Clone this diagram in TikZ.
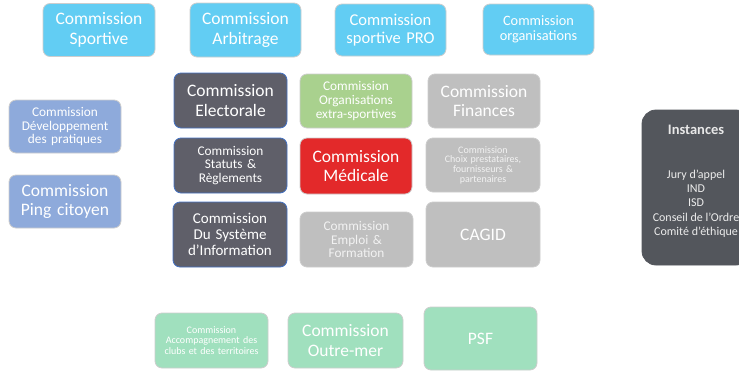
\documentclass[tikz,border=0pt]{standalone}
\usepackage{fontspec}
\setmainfont{Carlito}
\definecolor{cblue}{HTML}{62CDF3}
\definecolor{cpblue}{HTML}{8EAADB}
\definecolor{cdark}{HTML}{5F5F69}
\definecolor{cgreen}{HTML}{A9D18E}
\definecolor{cgray}{HTML}{BFBFBF}
\definecolor{cred}{HTML}{E3292A}
\definecolor{cmint}{HTML}{A0E0BE}
\definecolor{cinst}{HTML}{53565C}
\definecolor{cborder}{HTML}{CDCDCD}
\definecolor{cbborder}{HTML}{4472C4}
\tikzset{
  box/.style={rounded corners=7pt, draw=cborder, line width=0.8pt, align=center,
    inner sep=0pt, text=white},
  wh/.style n args={2}{minimum width=#1pt, minimum height=#2pt, text width=#1pt},
  big/.style={font=\fontsize{17.5}{19.5}\selectfont},
  mid/.style={font=\fontsize{15}{16}\selectfont},
  sml/.style={font=\fontsize{13.3}{13.6}\selectfont},
  tiny/.style={font=\fontsize{10}{9.6}\selectfont},
  darkbox/.style={box, fill=cdark, draw=cbborder},
}
\begin{document}
\begin{tikzpicture}[x=1pt,y=-1pt]
\useasboundingbox (0,0) rectangle (739,370);
% top row
\node[box, fill=cblue, wh={112}{53}, big] (sport) at (99,30) {Commission\\Sportive};
\node[box, fill=cblue, wh={111}{54}, big] (arb) at (245.5,30) {Commission\\Arbitrage};
\node[box, fill=cblue, wh={111}{52}, font=\fontsize{16.5}{18.5}\selectfont] (pro) at (390.5,30) {Commission\\sportive PRO};
\node[box, fill=cblue, wh={111}{51}, font=\fontsize{14.3}{15}\selectfont] (org) at (538.5,29.5) {Commission\\organisations};
% left column
\node[box, fill=cpblue, wh={112}{53}, sml] (dev) at (65,126.5) {Commission\\Développement\\des pratiques};
\node[box, fill=cpblue, wh={112}{53}, big] (ping) at (65,201.5) {Commission\\Ping citoyen};
% grid
\node[darkbox, wh={113}{55}, big] (elec) at (230.5,100.5) {Commission\\Electorale};
\node[box, fill=cgreen, wh={112}{54}, sml] (extra) at (356,101) {Commission\\Organisations\\extra-sportives};
\node[box, fill=cgray, wh={112}{54}, big] (fin) at (484,101) {Commission\\Finances};
\node[darkbox, wh={113}{55}, sml] (stat) at (230.5,165.5) {Commission\\Statuts \&\\Règlements};
\node[box, fill=cred, wh={112}{56}, big] (med) at (356,166) {Commission\\Médicale};
\node[box, fill=cgray, wh={114}{54}, tiny, text=white!90!gray] (choix) at (483,165) {Commission\\Choix prestataires,\\fournisseurs \&\\partenaires};
\node[darkbox, wh={114}{65}, mid] (sys) at (230,234.5) {Commission\\Du Système\\d’Information};
\node[box, fill=cgray, wh={113}{55}, sml, text=white!90!gray] (emploi) at (356.5,239.5) {Commission\\Emploi \&\\Formation};
\node[box, fill=cgray, wh={114}{65}, big] (cagid) at (483,234.5) {CAGID};
% instances
\node[box, fill=cinst, draw=cinst, rounded corners=14pt, wh={108}{155}] (inst) at (696,187.5) {};
\node[font=\bfseries\fontsize{14.5}{15}\selectfont, text=white!82!gray] (insttitle) at (696,130) {Instances};
\node[align=center, inner sep=0pt, font=\fontsize{12}{14.3}\selectfont, text=white!85!gray] (instlist) at (696,203.5)
  {Jury d’appel\\IND\\ISD\\Conseil de l’Ordre\\Comité d’éthique};
% bottom row
\node[box, fill=cmint, wh={113}{55}, font=\fontsize{10}{10.5}\selectfont] (acc) at (211.5,340.5) {Commission\\Accompagnement des\\clubs et des territoires};
\node[box, fill=cmint, wh={115}{55}, big] (outre) at (345.5,340.5) {Commission\\Outre-mer};
\node[box, fill=cmint, wh={113}{63}, big] (psf) at (480.5,338.5) {PSF};
\end{tikzpicture}
\end{document}
